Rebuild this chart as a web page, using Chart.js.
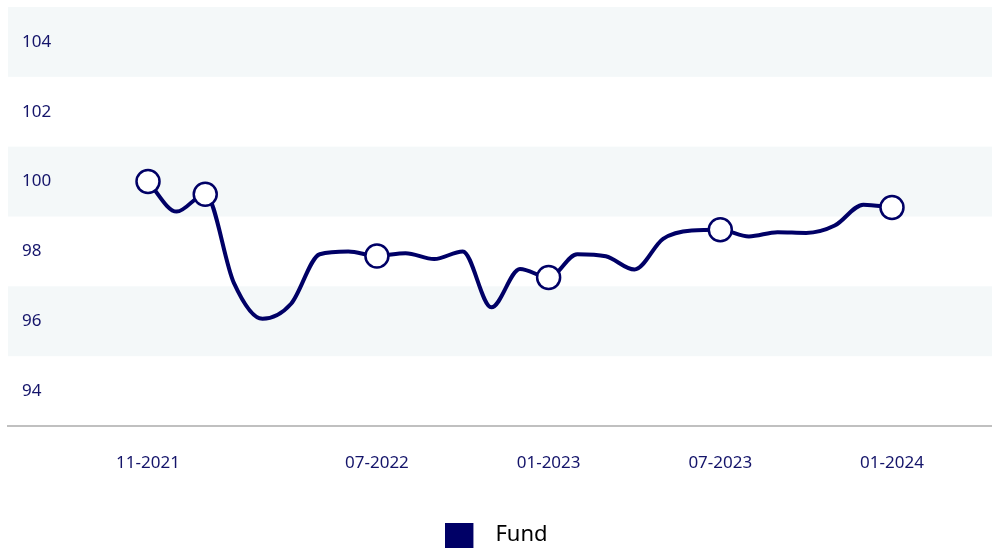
<!DOCTYPE html>
<html>
<head>
<meta charset="utf-8">
<script src="https://cdn.jsdelivr.net/npm/chart.js@4.4.0/dist/chart.umd.min.js"></script>
<style>
  html, body { margin: 0; padding: 0; background: #ffffff; }
  #wrap { width: 992px; height: 548px; position: relative; }
</style>
</head>
<body>
<div id="wrap"><canvas id="c"></canvas></div>
<script>
const months = ["11-2021","12-2021","01-2022","02-2022","03-2022","04-2022","05-2022","06-2022","07-2022","08-2022","09-2022","10-2022","11-2022","12-2022","01-2023","02-2023","03-2023","04-2023","05-2023","06-2023","07-2023","08-2023","09-2023","10-2023","11-2023","12-2023","01-2024"];
const fundValues = [100.0, 99.14, 99.64, 97.1, 96.07, 96.5, 97.92, 98.0, 97.87, 97.95, 97.78, 98.0, 96.4, 97.5, 97.25, 97.92, 97.86, 97.48, 98.36, 98.6, 98.62, 98.43, 98.55, 98.53, 98.74, 99.34, 99.26];
const markerMonths = ["11-2021","01-2022","07-2022","01-2023","07-2023","01-2024"];
const xTickLabels = ["11-2021","07-2022","01-2023","07-2023","01-2024"];
const yTickValues = [94, 96, 98, 100, 102, 104];
const shadedValues = [96, 100, 104];

const NAVY = '#000066';
const TEXT = '#14146a';
const FONT = "'Noto Sans', sans-serif";

// legend swatch: 28x25 square plus transparent gap on the right
const swatch = document.createElement('canvas');
swatch.width = 39; swatch.height = 25;
(function () {
  const sctx = swatch.getContext('2d');
  sctx.fillStyle = NAVY;
  sctx.fillRect(0, 0, 28, 25);
})();

const bandsPlugin = {
  id: 'bands',
  afterLayout(chart) {
    if (chart.legend) { chart.legend.left -= 7; }
  },
  beforeDraw(chart) {
    const {ctx, chartArea, scales: {y}} = chart;
    ctx.save();
    ctx.fillStyle = '#f4f8f9';
    shadedValues.forEach(v => {
      const top = y.getPixelForValue(Math.min(v + 1, y.max));
      const bot = y.getPixelForValue(Math.max(v - 1, y.min));
      ctx.fillRect(chartArea.left, top, chartArea.right - chartArea.left, bot - top);
    });
    ctx.restore();
  }
};

new Chart(document.getElementById('c'), {
  type: 'line',
  data: {
    datasets: [{
      label: 'Fund',
      data: fundValues.map((v, i) => ({x: i, y: v})),
      borderColor: NAVY,
      backgroundColor: NAVY,
      borderWidth: 4,
      cubicInterpolationMode: 'monotone',
      pointRadius: months.map(m => markerMonths.includes(m) ? 11.5 : 0),
      pointBackgroundColor: '#ffffff',
      pointBorderColor: NAVY,
      pointBorderWidth: 2.5,
      pointHoverRadius: 11.5,
      fill: false,
      clip: false
    }]
  },
  options: {
    responsive: true,
    maintainAspectRatio: false,
    animation: false,
    layout: { autoPadding: false, padding: { left: 8, top: 7, right: 0, bottom: -8 } },
    scales: {
      x: {
        type: 'linear',
        min: -4.893,
        max: 29.495,
        grid: { display: false, drawTicks: false },
        border: { display: true, color: '#c0c0c0', width: 2 },
        afterBuildTicks(scale) {
          scale.ticks = xTickLabels.map(l => ({ value: months.indexOf(l) }));
        },
        afterFit(scale) { scale.paddingLeft = 0; scale.paddingRight = 0; },
        ticks: {
          autoSkip: false,
          maxRotation: 0,
          padding: 26.8,
          color: TEXT,
          font: { family: FONT, size: 17 },
          callback: (v) => months[v]
        }
      },
      y: {
        min: 93,
        max: 105,
        grid: { display: false, drawTicks: false },
        border: { display: false },
        afterBuildTicks(scale) {
          scale.ticks = yTickValues.map(v => ({ value: v }));
        },
        afterFit(scale) { scale.width = 0; scale.paddingTop = 0; scale.paddingBottom = 0; },
        ticks: {
          autoSkip: false,
          mirror: true,
          padding: 14,
          color: TEXT,
          font: { family: FONT, size: 17 }
        }
      }
    },
    plugins: {
      tooltip: { enabled: false },
      legend: {
        position: 'bottom',
        labels: {
          usePointStyle: true,
          pointStyleWidth: 39,
          boxHeight: 22,
          padding: 24,
          color: TEXT,
          font: { family: FONT, size: 22 },
          generateLabels: (chart) => [{
            text: 'Fund', fillStyle: NAVY, strokeStyle: NAVY, lineWidth: 0,
            pointStyle: swatch, hidden: false, datasetIndex: 0
          }]
        }
      }
    }
  },
  plugins: [bandsPlugin]
});
</script>
</body>
</html>
